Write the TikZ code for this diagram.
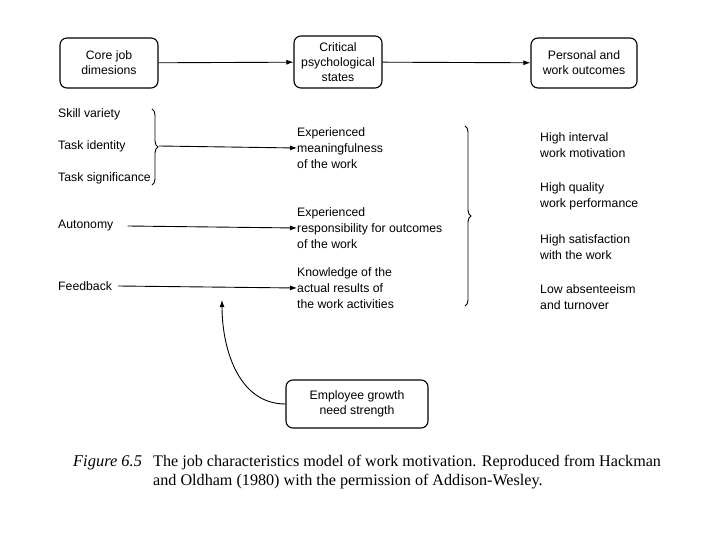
\documentclass[tikz,border=0pt]{standalone}
\usepackage{fontspec}
\setmainfont{Liberation Serif}
\setsansfont{Liberation Sans}
\usepackage{tikz}
\usetikzlibrary{arrows.meta,decorations.pathreplacing}

\begin{document}
\begin{tikzpicture}[
    x=1bp, y=-1bp,
    stage/.style={rectangle, draw, line width=1.1pt, rounded corners=7pt, align=center, font=\sffamily\fontsize{12.3}{15}\selectfont, minimum width=#1, minimum height=50bp, inner sep=2bp},
    stage/.default=98bp,
    txt/.style={anchor=west, inner sep=0pt, align=left, font=\sffamily\fontsize{12.3}{16}\selectfont},
    arr/.style={-{Latex[length=7bp,width=5bp]}, line width=0.9pt},
    brc/.style={decorate, decoration={brace, amplitude=6bp}, line width=0.9pt}
]
\useasboundingbox (0,0) rectangle (720,540);

% top row
\node[stage=98bp] (core) at (109,63) {Core job\\dimesions};
\node[stage=88bp, minimum height=52bp] (crit) at (338,62) {Critical\\psychological\\states};
\node[stage=106bp] (outc) at (584,63) {Personal and\\work outcomes};
\draw[arr] (core) -- (crit);
\draw[arr] (crit) -- (outc);

% core job dimensions
\node[txt] (skill) at (58,114) {Skill variety};
\node[txt] (ident) at (58,146) {Task identity};
\node[txt] (signif) at (58,178) {Task significance};
\node[txt] (auton) at (58,226) {Autonomy};
\node[txt] (feedb) at (58,286) {Feedback};

% psychological states
\node[txt] (mean) at (297,148) {Experienced\\meaningfulness\\of the work};
\node[txt] (resp) at (297,228) {Experienced\\responsibility for outcomes\\of the work};
\node[txt] (know) at (297,288) {Knowledge of the\\actual results of\\the work activities};

% outcomes
\node[txt] (motiv) at (540,145) {High interval\\work motivation};
\node[txt] (perf) at (540,196) {High quality\\work performance};
\node[txt] (satis) at (540,247) {High satisfaction\\with the work};
\node[txt] (absent) at (540,297) {Low absenteeism\\and turnover};

% braces
\draw[brc] (152,109) -- (152,185);
\coordinate (btip) at (159,146);
\draw[brc] (465,126) -- (465,306);

% links
\draw[arr] (btip) -- (mean.west);
\draw[arr] (auton.east) ++(14,0) -- (resp.west);
\draw[arr] (feedb.east) ++(6,0) -- (know.west);

% moderator
\node[stage=142bp, minimum height=48bp] (emp) at (357,404) {Employee growth\\need strength};
\coordinate (grw) at (222,300);
\draw[arr] (emp.west) to[out=180, in=-90] (grw);

% caption
\node[anchor=north west, inner sep=0pt, font=\itshape\fontsize{16.5}{19}\selectfont] (fig) at (73,455) {Figure 6.5};
\node[anchor=north west, inner sep=0pt, align=left, font=\fontsize{16.2}{19}\selectfont] (cap) at (153,455) {The job characteristics model of work motivation. Reproduced from Hackman\\and Oldham (1980) with the permission of Addison-Wesley.};
\end{tikzpicture}
\end{document}
